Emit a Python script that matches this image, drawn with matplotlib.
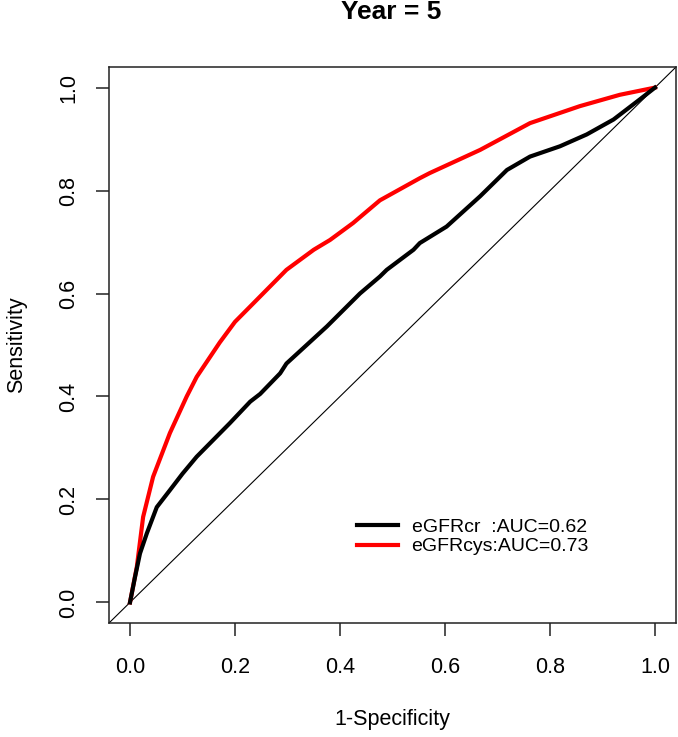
import matplotlib
matplotlib.use("Agg")
import matplotlib.pyplot as plt

plt.rcParams['font.family'] = ['Liberation Sans', 'DejaVu Sans']

title = "Year = 5"
x_label = "1-Specificity"
y_label = "Sensitivity"
ticks = [0.0, 0.2, 0.4, 0.6, 0.8, 1.0]
tick_labels = ["0.0", "0.2", "0.4", "0.6", "0.8", "1.0"]

labels = ["eGFRcr  :AUC=0.62", "eGFRcys:AUC=0.73"]
colors = ["black", "red"]

cr_fpr = [0.0, 0.0095, 0.019, 0.032, 0.051, 0.076, 0.10, 0.127, 0.19, 0.229, 0.248,
          0.286, 0.298, 0.375, 0.438, 0.476, 0.489, 0.54, 0.552, 0.603, 0.667, 0.718,
          0.762, 0.819, 0.87, 0.921, 0.971, 1.0]
cr_tpr = [0.0, 0.049, 0.095, 0.134, 0.185, 0.218, 0.25, 0.283, 0.348, 0.39, 0.405,
          0.445, 0.464, 0.536, 0.60, 0.633, 0.646, 0.685, 0.698, 0.73, 0.789, 0.840,
          0.866, 0.886, 0.909, 0.938, 0.977, 1.0]

cys_fpr = [0.0, 0.013, 0.025, 0.044, 0.076, 0.108, 0.127, 0.171, 0.2, 0.235, 0.298,
           0.35, 0.381, 0.425, 0.476, 0.552, 0.571, 0.667, 0.762, 0.857, 0.933, 1.0]
cys_tpr = [0.0, 0.069, 0.166, 0.244, 0.329, 0.40, 0.438, 0.505, 0.545, 0.581, 0.646,
           0.685, 0.704, 0.737, 0.781, 0.824, 0.834, 0.879, 0.931, 0.964, 0.986, 1.0]

fig = plt.figure(figsize=(6.78, 7.37), dpi=100)
ax = fig.add_axes([109/678, 1 - 623/737, 567/678, 556/737])

ax.axline((0, 0), (1, 1), color="black", lw=0.8, zorder=1)
h2, = ax.plot(cys_fpr, cys_tpr, color=colors[1], lw=3.0, zorder=2)
h1, = ax.plot(cr_fpr, cr_tpr, color=colors[0], lw=3.0, zorder=3)

ax.set_xlim(-0.04, 1.04)
ax.set_ylim(-0.04, 1.04)
ax.set_xticks(ticks)
ax.set_xticklabels(tick_labels)
ax.set_yticks(ticks)
ax.set_yticklabels(tick_labels, rotation=90, va="center")
ax.tick_params(axis="both", length=9.5, width=1.1, labelsize=15.5, color="#222222")
ax.tick_params(axis="x", pad=15)
ax.tick_params(axis="y", pad=12)
for s in ax.spines.values():
    s.set_linewidth(1.1)
    s.set_color("#222222")

fig.text(391/678, 1 - 12/737, title, ha="center", va="center", fontsize=19, fontweight="bold")
fig.text(392/678, 1 - 720/737, x_label, ha="center", va="center", fontsize=15.5)
fig.text(17/678, 1 - 345/737, y_label, ha="center", va="center", fontsize=15.5, rotation=90)

leg = ax.legend([h1, h2], labels, loc="center left", bbox_to_anchor=(0.437, 0.155),
                frameon=False, fontsize=14, handlelength=2.1, handletextpad=0.72,
                labelspacing=0.1, borderpad=0, borderaxespad=0)
for line in leg.get_lines():
    line.set_linewidth(3.0)

fig.savefig("out.png", dpi=100)
